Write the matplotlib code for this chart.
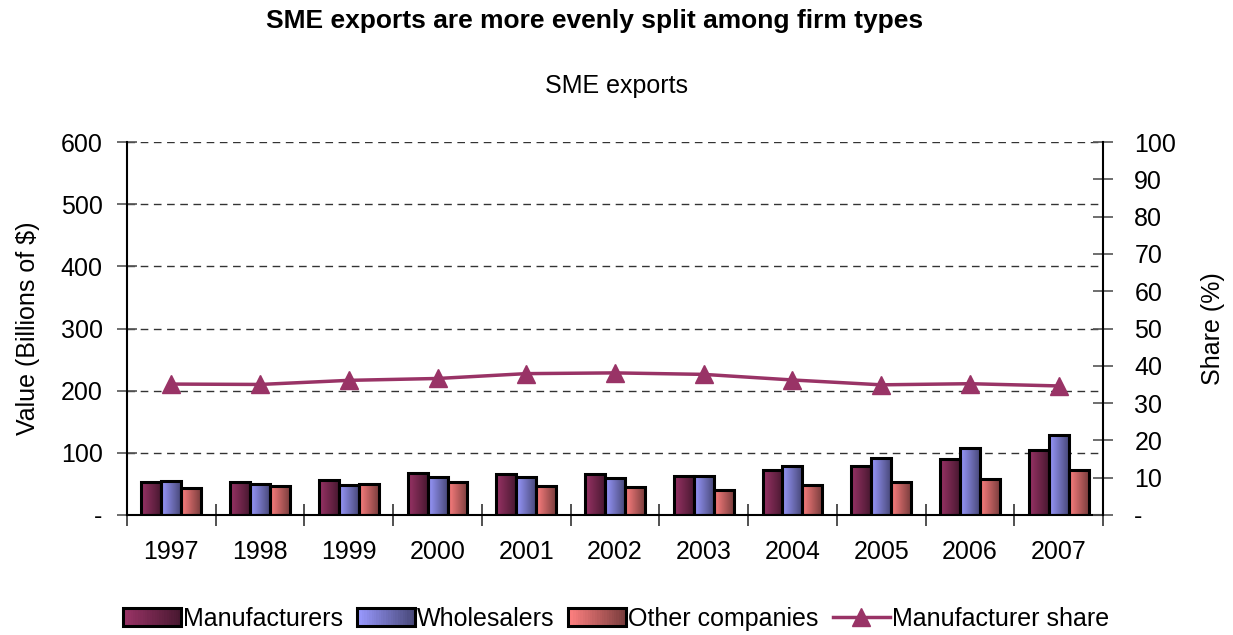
import numpy as np
import matplotlib
matplotlib.use("Agg")
import matplotlib.pyplot as plt
from matplotlib.colors import to_rgb
from matplotlib.patches import Rectangle
from matplotlib.lines import Line2D
from matplotlib.legend_handler import HandlerBase

plt.rcParams['font.family'] = ['Liberation Sans', 'DejaVu Sans']

years = ["1997", "1998", "1999", "2000", "2001", "2002", "2003", "2004", "2005", "2006", "2007"]
manufacturers = [53.6, 52.3, 56.6, 67.0, 66.5, 66.0, 62.2, 72.4, 78.3, 89.5, 105.0]
wholesalers = [54.7, 50.4, 49.0, 61.1, 61.0, 60.0, 62.7, 78.3, 92.0, 107.6, 128.6]
other_companies = [44.0, 47.0, 50.5, 53.6, 46.6, 45.0, 40.7, 48.3, 53.0, 57.7, 71.8]
manufacturer_share = [35.1, 35.0, 36.1, 36.6, 37.9, 38.1, 37.7, 36.2, 34.9, 35.2, 34.6]

left_ticks = [0, 100, 200, 300, 400, 500, 600]
left_labels = ["-", "100", "200", "300", "400", "500", "600"]
right_ticks = [0, 10, 20, 30, 40, 50, 60, 70, 80, 90, 100]
right_labels = ["-", "10", "20", "30", "40", "50", "60", "70", "80", "90", "100"]

series = [
    ("Manufacturers", manufacturers, "#993366"),
    ("Wholesalers", wholesalers, "#9999FF"),
    ("Other companies", other_companies, "#FF8080"),
]
line_color = "#993366"
FS = 18


def gradient_rgb(color, n=64):
    c = np.array(to_rgb(color))
    dark = c * 0.48
    t = np.linspace(0, 1, n)[:, None]
    return (1 - t) * c + t * dark


fig = plt.figure(figsize=(12.33, 6.35), dpi=100)
ax = fig.add_axes([127 / 1233, 1 - 515 / 635, (1103 - 127) / 1233, (515 - 142) / 635])

x = np.arange(len(years))
bw = 0.225
for i, (name, vals, col) in enumerate(series):
    offs = (i - 1) * bw
    bars = ax.bar(x + offs, vals, width=bw, facecolor="none", edgecolor="black",
                  linewidth=2.2, zorder=3)
    grad = gradient_rgb(col)[None, :, :]
    for b in bars:
        x0, y0 = b.get_x(), b.get_y()
        w, h = b.get_width(), b.get_height()
        im = ax.imshow(grad, extent=[x0, x0 + w, y0, y0 + h], aspect="auto",
                       interpolation="bilinear", zorder=2.5, origin="lower")
        im.set_clip_path(b)

ax.set_xlim(-0.5, len(years) - 0.5)
ax.set_ylim(0, 600)
ax.set_yticks(left_ticks)
ax.set_yticklabels(left_labels, fontsize=FS)
ax.yaxis.grid(True, linestyle=(0, (5.5, 4)), color="#333333", linewidth=1.0, zorder=0)
ax.set_axisbelow(True)
ax.set_xticks(np.arange(len(years) + 1) - 0.5)
ax.set_xticklabels([])
ax.set_xticks(x, minor=True)
ax.set_xticklabels(years, minor=True, fontsize=FS)
ax.tick_params(axis="x", which="major", direction="inout", length=16, width=1.2, color="#333333")
ax.tick_params(axis="x", which="minor", length=0, pad=18)
ax.tick_params(axis="y", direction="inout", length=15, width=1.2, color="#555555", pad=10)
ax.spines["top"].set_visible(False)
ax.spines["right"].set_visible(False)
for s in ("left", "bottom"):
    ax.spines[s].set_linewidth(1.5)
ax.set_ylabel("Value (Billions of $)", fontsize=FS, labelpad=15)

ax2 = ax.twinx()
ax2.plot(x, manufacturer_share, color=line_color, linewidth=2.5, marker="^",
         markersize=13, markerfacecolor=line_color, markeredgecolor=line_color, zorder=5)
ax2.set_ylim(0, 100)
ax2.set_yticks(right_ticks)
ax2.set_yticklabels(right_labels, fontsize=FS)
ax2.tick_params(axis="y", direction="inout", length=15, width=1.2, color="#555555", pad=15)
ax2.spines["top"].set_visible(False)
ax2.spines["left"].set_visible(False)
ax2.spines["bottom"].set_visible(False)
ax2.spines["right"].set_linewidth(1.5)
ax2.set_ylabel("Share (%)", fontsize=FS, labelpad=18)
ax2.set_xlim(-0.5, len(years) - 0.5)

fig.text(595 / 1233, 1 - 21 / 635, "SME exports are more evenly split among firm types",
         ha="center", va="center", fontsize=19, fontweight="bold")
fig.text(0.5, 1 - 86 / 635, "SME exports", ha="center", va="center", fontsize=FS)


class GradientPatchHandler(HandlerBase):
    def __init__(self, color):
        super().__init__()
        self.color = color

    def create_artists(self, legend, orig_handle, xdescent, ydescent, width, height,
                       fontsize, trans):
        arts = []
        cols = gradient_rgb(self.color, 24)
        n = len(cols)
        hh = height * 1.05
        y0 = -ydescent + (height - hh) / 2
        for k, c in enumerate(cols):
            r = Rectangle((-xdescent + k * width / n, y0), width / n + 0.3, hh,
                          facecolor=c, edgecolor="none", transform=trans)
            arts.append(r)
        border = Rectangle((-xdescent, y0), width, hh, facecolor="none",
                           edgecolor="black", linewidth=2.2, transform=trans)
        arts.append(border)
        return arts


handles = [Rectangle((0, 0), 1, 1) for _ in series]
handles.append(Line2D([], [], color=line_color, linewidth=2.5, marker="^",
                      markersize=13, markerfacecolor=line_color, markeredgecolor=line_color))
labels = [s[0] for s in series] + ["Manufacturer share"]
hmap = {handles[i]: GradientPatchHandler(series[i][2]) for i in range(len(series))}
fig.legend(handles, labels, loc="center", bbox_to_anchor=(0.5, 1 - 619 / 635),
           ncol=4, frameon=False, fontsize=FS, handler_map=hmap,
           handlelength=2.3, handletextpad=0.1, columnspacing=0.55)

fig.savefig("out.png", dpi=100)
